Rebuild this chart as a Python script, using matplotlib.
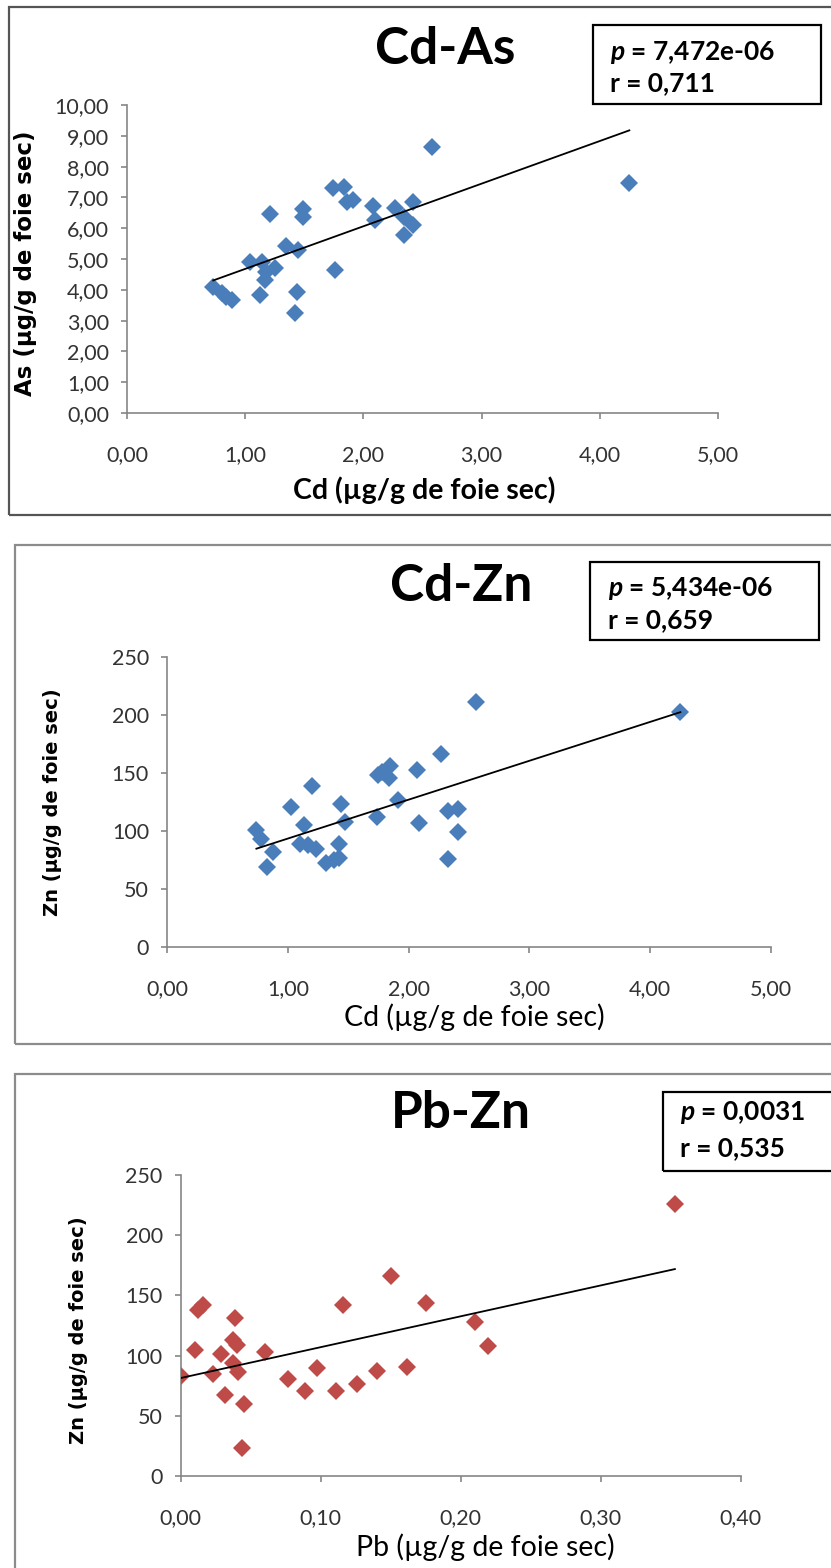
import numpy as np
import matplotlib
matplotlib.use("Agg")
import matplotlib.pyplot as plt
from matplotlib.patches import Rectangle

# Data
# Cd-As
cd_as_x = [0.73, 0.80, 0.84, 0.885, 1.04, 1.125, 1.14, 1.17, 1.18, 1.21, 1.25, 1.345, 1.42, 1.44,
           1.45, 1.49, 1.49, 1.745, 1.76, 1.84, 1.86, 1.91, 2.08, 2.10, 2.27, 2.34, 2.34, 2.42,
           2.42, 2.58, 4.25]
cd_as_y = [4.10, 3.89, 3.78, 3.67, 4.91, 3.83, 4.91, 4.32, 4.59, 6.45, 4.70, 5.42, 3.26, 3.94,
           5.29, 6.61, 6.37, 7.30, 4.64, 7.35, 6.86, 6.92, 6.72, 6.27, 6.65, 6.37, 5.78, 6.86,
           6.10, 8.65, 7.48]

# Cd-Zn
cd_zn_x = [0.74, 0.78, 0.83, 0.875, 1.03, 1.10, 1.13, 1.17, 1.20, 1.23, 1.32, 1.38, 1.42, 1.42,
           1.44, 1.47, 1.74, 1.75, 1.78, 1.84, 1.85, 1.91, 2.07, 2.09, 2.27, 2.33, 2.33, 2.41,
           2.41, 2.56, 4.25]
cd_zn_y = [101, 93, 69, 82, 121, 89, 105, 88, 139, 84.5, 72, 75, 77, 88.5,
           123, 108, 112, 148, 151, 146, 156, 127, 153, 107, 166, 117.5, 75.6, 119,
           99, 211, 203]

# Pb-Zn
pb_zn_x = [0.0, 0.0102, 0.0126, 0.0157, 0.023, 0.0286, 0.0316, 0.0376, 0.0376, 0.039, 0.040,
           0.041, 0.0435, 0.0454, 0.060, 0.0764, 0.0888, 0.0971, 0.1107, 0.1157, 0.1257, 0.1405,
           0.150, 0.1614, 0.175, 0.210, 0.2197, 0.353]
pb_zn_y = [83, 104.6, 138, 142, 84.4, 101, 67, 113, 93.5, 131, 108.7,
           86, 23.5, 59.8, 103, 80.5, 70.5, 89.4, 70.5, 142, 76.3, 87.4,
           166, 90.2, 144, 127.5, 107.9, 226]

titles = ["Cd-As", "Cd-Zn", "Pb-Zn"]
p_texts = ["7,472e-06", "5,434e-06", "0,0031"]
r_texts = ["0,711", "0,659", "0,535"]

plt.rcParams['font.family'] = ['Lato', 'DejaVu Sans']
plt.rcParams['mathtext.fontset'] = 'custom'
plt.rcParams['mathtext.it'] = 'Lato:italic:bold'
plt.rcParams['mathtext.rm'] = 'Lato:bold'

W, H = 831, 1568
fig = plt.figure(figsize=(W / 100, H / 100), dpi=100)

def fx(px):
    return px / W

def fy(py):
    return 1 - py / H

def comma(v, nd):
    return f"{v:.{nd}f}".replace(".", ",")

# outer frames of the three charts (pixel coords: left, top, bottom)
frames = [(9, 7, 515, '#555555'), (15, 545, 1044, '#8c8c8c'), (15, 1074, 1600, '#8c8c8c')]
for left, top, bottom, col in frames:
    fig.patches.append(Rectangle((fx(left), fy(bottom)), 1.2, (bottom - top) / H,
                                 transform=fig.transFigure, fill=False,
                                 edgecolor=col, lw=1.6, clip_on=False))

# axes positions in pixels: left, right, top, bottom
boxes = [(127, 718, 105, 413), (167, 771, 657, 947), (180.7, 740.7, 1175, 1476)]
data = [(cd_as_x, cd_as_y), (cd_zn_x, cd_zn_y), (pb_zn_x, pb_zn_y)]
colors = ['#4A7EBB', '#4A7EBB', '#BE4B48']
xlims = [(0, 5), (0, 5), (0, 0.4)]
ylims = [(0, 10), (0, 250), (0, 250)]
xticks = [np.arange(0, 5.01, 1), np.arange(0, 5.01, 1), np.arange(0, 0.401, 0.1)]
yticks = [np.arange(0, 10.01, 1), np.arange(0, 251, 50), np.arange(0, 251, 50)]
xlabels = ["Cd (µg/g de foie sec)", "Cd (µg/g de foie sec)", "Pb (µg/g de foie sec)"]
ylabels = ["As (µg/g de foie sec)", "Zn (µg/g de foie sec)", "Zn (µg/g de foie sec)"]
ylab_pos = [(26, 263), (53, 802), (79, 1330)]
xlab_pos = [(424, 490), (474, 1017), (485, 1547)]
title_pos = [(445, 50), (461, 587), (461, 1114)]
# stat box: left, right, top, bottom, text left, row1 y, row2 y
stat_pos = [(593, 821, 25, 104, 610, 53, 83),
            (590, 819, 562, 640, 608, 588, 620),
            (663, 834, 1092, 1171, 680, 1112, 1148)]

for i in range(3):
    l, r, t, b = boxes[i]
    ax = fig.add_axes([fx(l), fy(b), (r - l) / W, (b - t) / H])
    x, y = data[i]
    ms = 9 if i == 0 else 9.5
    ax.plot(x, y, linestyle='none', marker='D', ms=ms, color=colors[i], mew=0, zorder=3)

    # linear trend line
    k, c = np.polyfit(x, y, 1)
    xs = np.array([min(x), max(x)])
    ax.plot(xs, k * xs + c, color='black', lw=1.3, zorder=4)

    ax.set_xlim(*xlims[i])
    ax.set_ylim(*ylims[i])
    ax.set_xticks(xticks[i])
    ax.set_yticks(yticks[i])
    ax.set_xticklabels([comma(v, 2) for v in xticks[i]])
    if i == 0:
        ax.set_yticklabels([comma(v, 2) for v in yticks[i]])
    else:
        ax.set_yticklabels([str(int(v)) for v in yticks[i]])
    for s in ['top', 'right']:
        ax.spines[s].set_visible(False)
    for s in ['left', 'bottom']:
        ax.spines[s].set_color('#868686')
        ax.spines[s].set_linewidth(1.2)
    ax.tick_params(axis='both', direction='out', length=4, width=1.2, color='#868686',
                   labelsize=15.5, labelcolor='#333333')
    ax.tick_params(axis='x', pad=19)
    ax.tick_params(axis='y', pad=9)
    ax.set_facecolor('none')

    # axis labels
    xw = 'bold' if i == 0 else 'normal'
    ax.set_xlabel(xlabels[i], fontsize=20.5, fontweight=xw, va='center', color='black')
    ax.xaxis.set_label_coords((xlab_pos[i][0] - l) / (r - l), (b - xlab_pos[i][1]) / (b - t))
    ysize = 16.5 if i == 0 else 14
    ax.set_ylabel(ylabels[i], fontsize=ysize, fontweight='bold', family='DejaVu Sans',
                  va='center', color='black')
    ax.yaxis.set_label_coords((ylab_pos[i][0] - l) / (r - l), (b - ylab_pos[i][1]) / (b - t))

    # chart title
    fig.text(fx(title_pos[i][0]), fy(title_pos[i][1]), titles[i], fontsize=37,
             fontweight='bold', ha='center', va='center')

    # p / r box
    bl, br, bt, bb, tx, r1, r2 = stat_pos[i]
    fig.patches.append(Rectangle((fx(bl), fy(bb)), (br - bl) / W, (bb - bt) / H,
                                 transform=fig.transFigure, fill=False,
                                 edgecolor='black', lw=1.6))
    fig.text(fx(tx), fy(r1), "$p$ = " + p_texts[i], fontsize=19, fontweight='bold',
             ha='left', va='center')
    fig.text(fx(tx), fy(r2), "r = " + r_texts[i], fontsize=19, fontweight='bold',
             ha='left', va='center')

fig.savefig("out.png", dpi=100)
